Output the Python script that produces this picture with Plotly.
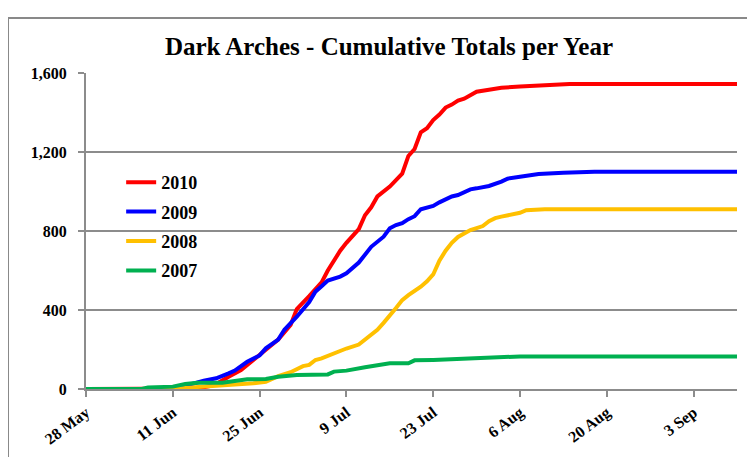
import datetime as dt
import plotly.graph_objects as go

START = dt.date(2010, 5, 28)

# Cumulative totals, day offsets from 28 May and values
days_2010 = [0, 17, 18, 20, 21, 23, 25, 27, 29, 31, 33, 34, 36, 38, 39, 41, 42, 44, 45, 46, 47, 49, 51,
             52, 53, 54, 55, 56, 57, 58, 59, 60, 61, 62, 63, 65, 67, 70, 72, 74, 78, 105]
vals_2010 = [0, 0, 3, 15, 25, 62, 96, 147, 197, 250, 324, 405, 470, 540, 600, 700, 740, 810, 880, 920, 975,
             1025, 1090, 1180, 1215, 1300, 1320, 1362, 1390, 1425, 1440, 1460, 1470, 1490, 1505, 1515,
             1525, 1532, 1535, 1540, 1544, 1544]

days_2009 = [0, 15, 16, 17, 19, 21, 23, 24, 26, 28, 29, 31, 32, 34, 36, 37, 38, 39, 41, 42, 44, 45, 46,
             48, 49, 50, 51, 52, 53, 54, 56, 57, 58, 59, 60, 62, 63, 65, 67, 68, 70, 72, 73, 77, 82, 105]
vals_2009 = [0, 0, 8, 25, 42, 54, 79, 93, 138, 170, 206, 250, 300, 366, 440, 493, 520, 549, 569, 586,
             640, 679, 720, 771, 814, 830, 840, 860, 875, 910, 927, 945, 960, 975, 982, 1011, 1016,
             1028, 1050, 1065, 1075, 1082, 1089, 1095, 1100, 1100]

days_2008 = [0, 14, 17, 21, 24, 27, 29, 31, 33, 35, 36, 37, 38, 40, 42, 44, 45, 46, 47, 48, 49, 50, 51,
             52, 54, 55, 56, 57, 58, 59, 60, 61, 62, 63, 64, 65, 66, 67, 69, 70, 71, 74, 105]
vals_2008 = [0, 0, 8, 15, 20, 29, 37, 65, 85, 116, 122, 147, 155, 181, 205, 225, 250, 275, 300, 335,
             370, 410, 450, 475, 518, 545, 580, 650, 700, 740, 770, 790, 805, 815, 825, 850, 865, 873,
             885, 892, 905, 910, 910]

days_2007 = [0, 9, 10, 14, 16, 18, 22, 24, 26, 29, 31, 34, 39, 40, 42, 45, 46, 49, 52, 53, 56, 63, 69,
             70, 105]
vals_2007 = [0, 0, 8, 12, 25, 32, 32, 42, 49, 51, 62, 71, 74, 88, 93, 110, 116, 130, 130, 145, 147,
             155, 159, 165, 165]

series_names = ["2010", "2009", "2008", "2007"]
series_colors = ["#FF0000", "#0000FF", "#FFC000", "#00B050"]

tick_days = [0, 14, 28, 42, 56, 70, 84, 98]
tick_labels = ["28 May", "11 Jun", "25 Jun", "9 Jul", "23 Jul", "6 Aug", "20 Aug", "3 Sep"]

y_ticks = [0, 400, 800, 1200, 1600]


def to_dates(days):
    return [(START + dt.timedelta(days=d)).isoformat() for d in days]


fig = go.Figure()
all_days = [days_2010, days_2009, days_2008, days_2007]
all_vals = [vals_2010, vals_2009, vals_2008, vals_2007]
for name, color, d, v in zip(series_names, series_colors, all_days, all_vals):
    fig.add_trace(go.Scatter(
        x=to_dates(d), y=v, name=name, mode="lines",
        line=dict(color=color, width=4), legendgroup=name,
    ))

font_family = "Liberation Serif, Times New Roman, serif"
grid_color = "#8C8C8C"

fig.update_layout(
    width=747, height=449,
    paper_bgcolor="white", plot_bgcolor="white",
    margin=dict(l=78, r=18, t=65, b=68, autoexpand=False),
    title=dict(text="Dark Arches - Cumulative Totals per Year",
               font=dict(family=font_family, size=25, color="black", weight="bold"),
               x=0.51, xanchor="center", y=0.915, yanchor="middle"),
    showlegend=True,
    legend=dict(x=0.054, y=0.712, xanchor="left", yanchor="top",
                font=dict(family=font_family, size=18, color="black", weight="bold"),
                bgcolor="rgba(0,0,0,0)", tracegroupgap=3),
    xaxis=dict(
        type="date", automargin=False,
        range=[START.isoformat(), (START + dt.timedelta(days=105)).isoformat()],
        tickmode="array", tickvals=to_dates(tick_days), ticktext=tick_labels,
        tickangle=-37, ticks="outside", ticklen=6, tickcolor=grid_color, tickwidth=2,
        tickfont=dict(family=font_family, size=16, color="black", weight="bold"),
        showgrid=False, showline=True, linecolor=grid_color, linewidth=2, zeroline=False,
    ),
    yaxis=dict(
        range=[0, 1600], tickmode="array", tickvals=y_ticks, tickformat=",",
        automargin=False,
        ticks="outside", ticklen=6, tickcolor=grid_color, tickwidth=2,
        ticklabelstandoff=8,
        tickfont=dict(family=font_family, size=16, color="black", weight="bold"),
        showgrid=True, gridcolor=grid_color, gridwidth=2,
        showline=True, linecolor=grid_color, linewidth=2, zeroline=False,
    ),
    shapes=[dict(type="rect", xref="paper", yref="paper",
                 x0=-0.1198, x1=1.2, y0=-0.5, y1=1.174,
                 line=dict(color="#898989", width=2), layer="below")],
)

fig.write_html("out.html")
